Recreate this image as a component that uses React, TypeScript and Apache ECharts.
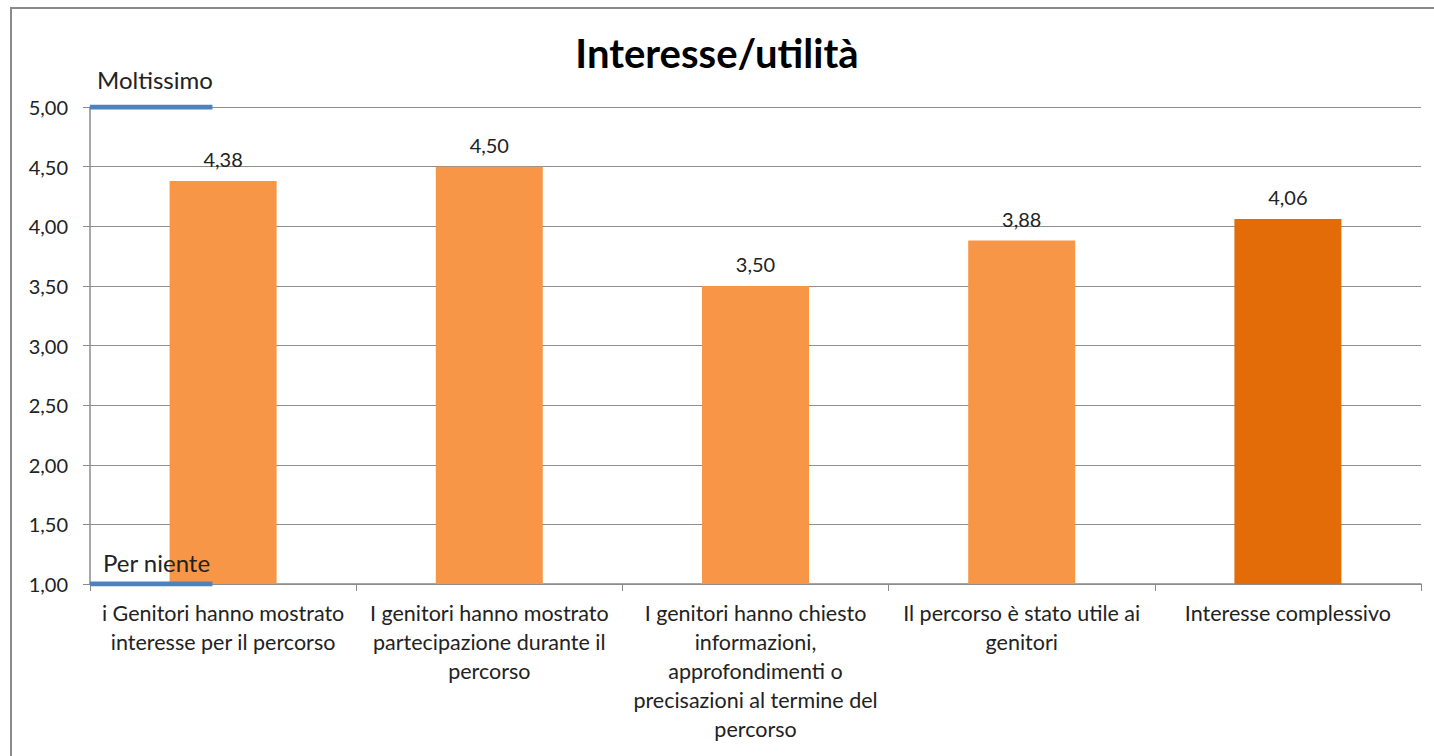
import React, { useEffect, useRef } from "react";
import * as echarts from "echarts";

const titleText = "Interesse/utilità";
const categories = [
  "i Genitori hanno mostrato\ninteresse per il percorso",
  "I genitori hanno mostrato\npartecipazione durante il\npercorso",
  "I genitori hanno chiesto\ninformazioni,\napprofondimenti o\nprecisazioni al termine del\npercorso",
  "Il percorso è stato utile ai\ngenitori",
  "Interesse complessivo",
];
const values = [4.38, 4.5, 3.5, 3.88, 4.06];
const highlightIndex = 4;
const scaleMarks = [
  { name: "Moltissimo", value: 5, dx: 7, dy: -16 },
  { name: "Per niente", value: 1, dx: 13, dy: -10 },
];
const markSpan = 0.46; // fraction of a category covered by the scale marks

const FONT = "Lato, 'Open Sans', sans-serif";
const fmt = (v: number) => v.toFixed(2).replace(".", ",");

export default function App() {
  const ref = useRef<HTMLDivElement>(null);
  useEffect(() => {
    document.body.style.margin = "0";
    const chart = echarts.init(ref.current!, null, { renderer: "svg" });
    const option: any = {
      animation: false,
      backgroundColor: "#ffffff",
      title: {
        text: titleText,
        left: "center",
        top: 28,
        textStyle: { fontFamily: FONT, fontWeight: "bold", fontSize: 40, color: "#000" },
      },
      graphic: [
        {
          type: "rect",
          shape: { x: 11, y: 8, width: 1500, height: 800 },
          style: { fill: "none", stroke: "#8a8a8a", lineWidth: 2 },
          silent: true,
        },
      ],
      grid: { left: 90, right: 13, top: 107, bottom: 172 },
      xAxis: [
        {
          type: "category",
          data: categories,
          axisLine: { lineStyle: { color: "#8a8a8a", width: 1.5 } },
          axisTick: { show: true, length: 7, lineStyle: { color: "#8a8a8a" } },
          axisLabel: {
            interval: 0,
            margin: 14,
            fontFamily: FONT,
            fontSize: 21.5,
            lineHeight: 29,
            color: "#222",
            align: "center",
          },
          splitLine: { show: false },
        },
        {
          type: "value",
          min: 0,
          max: categories.length,
          show: false,
        },
      ],
      yAxis: {
        type: "value",
        min: 1,
        max: 5,
        interval: 0.5,
        axisLine: { show: true, lineStyle: { color: "#8a8a8a", width: 1.5 } },
        axisTick: { show: true, length: 7, lineStyle: { color: "#8a8a8a" } },
        axisLabel: { formatter: fmt, fontFamily: FONT, fontSize: 20, color: "#222", margin: 22 },
        splitLine: { lineStyle: { color: "#8f8f8f", width: 1.2 } },
      },
      series: [
        {
          type: "bar",
          xAxisIndex: 0,
          barWidth: 107,
          data: values.map((v, i) => ({
            value: v,
            itemStyle: { color: i === highlightIndex ? "#E36C09" : "#F79646" },
          })),
          label: {
            show: true,
            position: "top",
            distance: 12,
            formatter: (p: any) => fmt(p.value),
            fontFamily: FONT,
            fontSize: 20,
            color: "#222",
          },
          z: 2,
        },
        ...scaleMarks.map((m) => ({
          type: "line",
          name: m.name,
          xAxisIndex: 1,
          symbol: "circle",
          symbolSize: 0,
          showSymbol: true,
          lineStyle: { color: "#4F81BD", width: 5 },
          itemStyle: { color: "#4F81BD" },
          z: 3,
          label: {
            show: true,
            position: [m.dx, m.dy],
            align: "left",
            verticalAlign: "bottom",
            formatter: (p: any) => (p.dataIndex === 0 ? m.name : ""),
            fontFamily: FONT,
            fontSize: 24,
            color: "#222",
          },
          labelLayout: { hideOverlap: false },
          data: [
            [0, m.value],
            [markSpan, m.value],
          ],
        })),
      ],
    };
    chart.setOption(option);
    return () => chart.dispose();
  }, []);
  return <div ref={ref} style={{ width: 1434, height: 756 }} />;
}
